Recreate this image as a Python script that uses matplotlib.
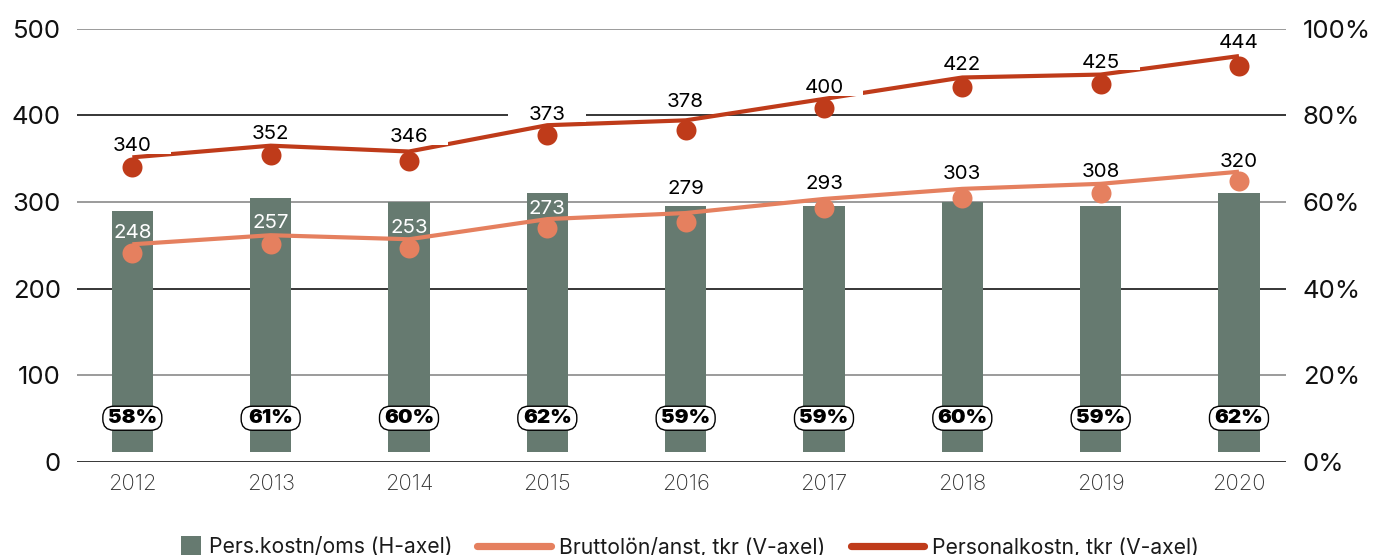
import matplotlib
matplotlib.use("Agg")
import matplotlib.pyplot as plt
import matplotlib.transforms as mtransforms
from matplotlib.patches import BoxStyle, Rectangle, Patch
from matplotlib.lines import Line2D
from matplotlib.legend_handler import HandlerPatch

# ---------------- data ----------------
years = ["2012", "2013", "2014", "2015", "2016", "2017", "2018", "2019", "2020"]
pers_kostn_oms = [58, 61, 60, 62, 59, 59, 60, 59, 62]          # % (right axis)
bruttolon = [248, 257, 253, 273, 279, 293, 303, 308, 320]      # tkr (left axis)
personalkostn = [340, 352, 346, 373, 378, 400, 422, 425, 444]  # tkr (left axis)
left_ticks = [0, 100, 200, 300, 400, 500]
right_ticks = [0, 20, 40, 60, 80, 100]
legend_labels = ["Pers.kostn/oms (H-axel)", "Bruttolön/anst, tkr (V-axel)",
                 "Personalkostn, tkr (V-axel)"]

# ---------------- style ----------------
FONT = ["Inter", "DejaVu Sans"]
plt.rcParams["font.family"] = FONT
BAR_C = "#667a70"
BRUTTO_C = "#e5805f"
PERS_C = "#bf3b1a"
GRID_COLORS = ["#000000", "#808080"]
DPI = 100
# label offsets above the line points (pixels)
brutto_label_dy = [11.6, 12.3, 11.6, 10, 24, 15, 15, 12, 9.4]
pers_label_dy = [11.3, 11.7, 14.4, 10.3, 18, 10.7, 12.3, 11.7, 12.7]
brutto_label_colors = ["white", "white", "white", "white", "black", "black",
                       "black", "black", "black"]

fig = plt.figure(figsize=(13.76, 5.55), dpi=DPI)
ax = fig.add_axes([77 / 1376, 93 / 555, (1286 - 77) / 1376, (462 - 28.7) / 555])
ax2 = ax.twinx()
axb = ax.twinx()
axp = ax.twinx()

x = list(range(len(years)))
ax.set_xlim(-0.4, 8.34)
ax.set_ylim(0, 500)
ax2.set_ylim(0, 100)
axb.set_ylim(32.0, 461.9)
axp.set_ylim(27.2, 472.1)

for a in (ax, ax2, axb, axp):
    for s in a.spines.values():
        s.set_visible(False)
for i, a in enumerate((ax, ax2, axb, axp)):
    a.set_zorder(i + 1)
for a in (ax2, axb, axp):
    a.patch.set_visible(False)

# gridlines, alternating black / grey
for i, t in enumerate(left_ticks):
    ax.axhline(t, color=GRID_COLORS[i % 2], lw=1.1, zorder=0)

ax.set_yticks(left_ticks)
ax.set_yticklabels([str(t) for t in left_ticks])
ax.tick_params(axis="y", length=0, pad=11.5, labelsize=18.5, labelcolor="#111111")
ax.set_xticks(x)
ax.set_xticklabels(years)
ax.tick_params(axis="x", length=0, pad=9, labelsize=15.8, labelcolor="#333333")
for lab in ax.get_xticklabels():
    lab.set_fontweight("light")

ax2.set_yticks(right_ticks)
ax2.set_yticklabels([f"{t}%" for t in right_ticks])
ax2.tick_params(axis="y", length=0, pad=12, labelsize=18.5, labelcolor="#111111")
axb.set_yticks([])
axp.set_yticks([])


def fixed_box(w_px, h_px, r_px):
    def style(x0, y0, width, height, mutation_size):
        cx = x0 + width / 2
        cy = y0 + height / 2
        if r_px > 0:
            return BoxStyle.Round(pad=0, rounding_size=r_px / mutation_size)(
                cx - w_px / 2, cy - h_px / 2, w_px, h_px, mutation_size)
        return BoxStyle.Square(pad=0)(cx - w_px / 2, cy - h_px / 2, w_px, h_px,
                                      mutation_size)
    return style


# bars (right axis), start slightly above the zero line
BAR_BASE = 2.3
ax2.bar(x, [v - BAR_BASE for v in pers_kostn_oms], bottom=BAR_BASE, width=0.30,
        color=BAR_C, zorder=2)
for xi, v in zip(x, pers_kostn_oms):
    ax2.text(xi, 10.1, f"{v}%", ha="center", va="center", fontsize=14.8,
             fontweight="black", color="black", zorder=4,
             bbox=dict(boxstyle=fixed_box(59, 24, 11), facecolor="white",
                       edgecolor="black", linewidth=1.0))

# Bruttolön line + offset markers
off_b = mtransforms.offset_copy(axb.transData, fig=fig, x=0, y=-9, units="dots")
axb.plot(x, bruttolon, color=BRUTTO_C, lw=3.0, zorder=2, solid_capstyle="butt")
axb.plot(x, bruttolon, "o", color=BRUTTO_C, ms=14.4, mec="none", zorder=2.5,
         transform=off_b)
for xi, v, c, dy in zip(x, bruttolon, brutto_label_colors, brutto_label_dy):
    axb.annotate(str(v), (xi, v), xytext=(0, dy), textcoords="offset pixels",
                 ha="center", va="center", fontsize=14.8, color=c, zorder=4)

# Personalkostn line + offset markers
off_p = mtransforms.offset_copy(axp.transData, fig=fig, x=0, y=-9.5, units="dots")
axp.plot(x, personalkostn, color=PERS_C, lw=3.0, zorder=2, solid_capstyle="butt")
axp.plot(x, personalkostn, "o", color=PERS_C, ms=14.4, mec="none", zorder=2.5,
         transform=off_p)
for xi, v, dy in zip(x, personalkostn, pers_label_dy):
    axp.annotate(str(v), (xi, v), xytext=(0, dy), textcoords="offset pixels",
                 ha="center", va="center", fontsize=14.8, color="black", zorder=4,
                 bbox=dict(boxstyle=fixed_box(78, 15, 0), facecolor="white",
                           edgecolor="none"))

# legend
bar_handle = Patch(facecolor=BAR_C, edgecolor="none")


def square_patch(legend, orig_handle, xdescent, ydescent, width, height, fontsize):
    s = 14.4
    return Rectangle((width - xdescent - s, -ydescent + (height - s) / 2), s, s)


h_b = Line2D([], [], color=BRUTTO_C, lw=5.2, solid_capstyle="round")
h_p = Line2D([], [], color=PERS_C, lw=5.2, solid_capstyle="round")
leg = fig.legend([bar_handle, h_b, h_p], legend_labels, ncol=3, loc="center",
                 bbox_to_anchor=(0.482, 8 / 555), frameon=False, fontsize=15.2,
                 handlelength=3.5, handletextpad=0.38, columnspacing=1.18,
                 handler_map={bar_handle: HandlerPatch(patch_func=square_patch)})
for t in leg.get_texts():
    t.set_color("#1a1a1a")

fig.savefig("out.png", dpi=DPI)
